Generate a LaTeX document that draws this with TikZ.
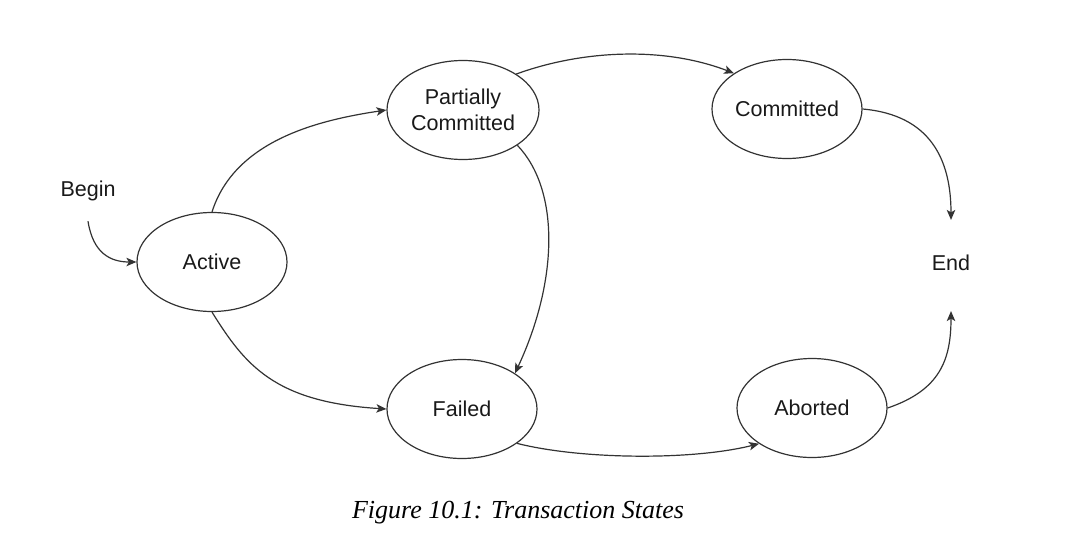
\documentclass[tikz,border=0pt]{standalone}
\usepackage{fontspec}
\setmainfont{Liberation Sans}
\newfontfamily\capfont{Liberation Serif}
\usetikzlibrary{shapes.geometric,arrows.meta}
\begin{document}
\begin{tikzpicture}[x=1pt,y=-1pt,
  state/.style={ellipse,draw=black!80,line width=1.2pt,minimum width=150pt,minimum height=99pt,inner sep=0pt,
    font=\fontsize{21.5}{25.7}\selectfont,text=black!90,align=center},
  lbl/.style={font=\fontsize{21.5}{25.7}\selectfont,text=black!90,inner sep=0pt},
  conn/.style={draw=black!80,line width=1.2pt,-{Stealth[length=10pt,width=8.5pt,inset=2.5pt]}}]
\useasboundingbox (0,0) rectangle (1067,543);
\node[state] (act) at (212,262) {Active};
\node[state,minimum width=152pt] (pc) at (463,110) {Partially\\Committed};
\node[state] (com) at (787,109) {Committed};
\node[state] (fail) at (462,409) {Failed};
\node[state] (abt) at (812,408) {Aborted};
\node[lbl] (begin) at (88,191) {Begin};
\node[lbl] (end) at (951,263) {End};
\node[font=\capfont\itshape\fontsize{26}{30}\selectfont,inner sep=0pt] (cap) at (518,513) {Figure 10.1: Transaction States};
\draw[conn] ([yshift=-20pt]begin.south) .. controls +(5,32) and +(-26,0) .. (act.west);
\draw[conn] (act.north) .. controls +(23,-72) and +(-67,10) .. (pc.west);
\draw[conn] (act.south) .. controls +(33,53) and +(-112,-7) .. (fail.west);
\draw[conn] (pc.-33) .. controls +(43,45) and +(43,-92) .. (fail.34);
\draw[conn] (pc.34) .. controls +(63,-23) and +(-73,-28) .. (com.146);
\draw[conn] (com.east) .. controls +(68,6) and +(0,-60) .. ([yshift=35pt]end.north);
\draw[conn] (fail.-32) .. controls +(63,16) and +(-68,17) .. (abt.214);
\draw[conn] (abt.east) .. controls +(53,-18) and +(0,48) .. ([yshift=-40pt]end.south);
\end{tikzpicture}
\end{document}
